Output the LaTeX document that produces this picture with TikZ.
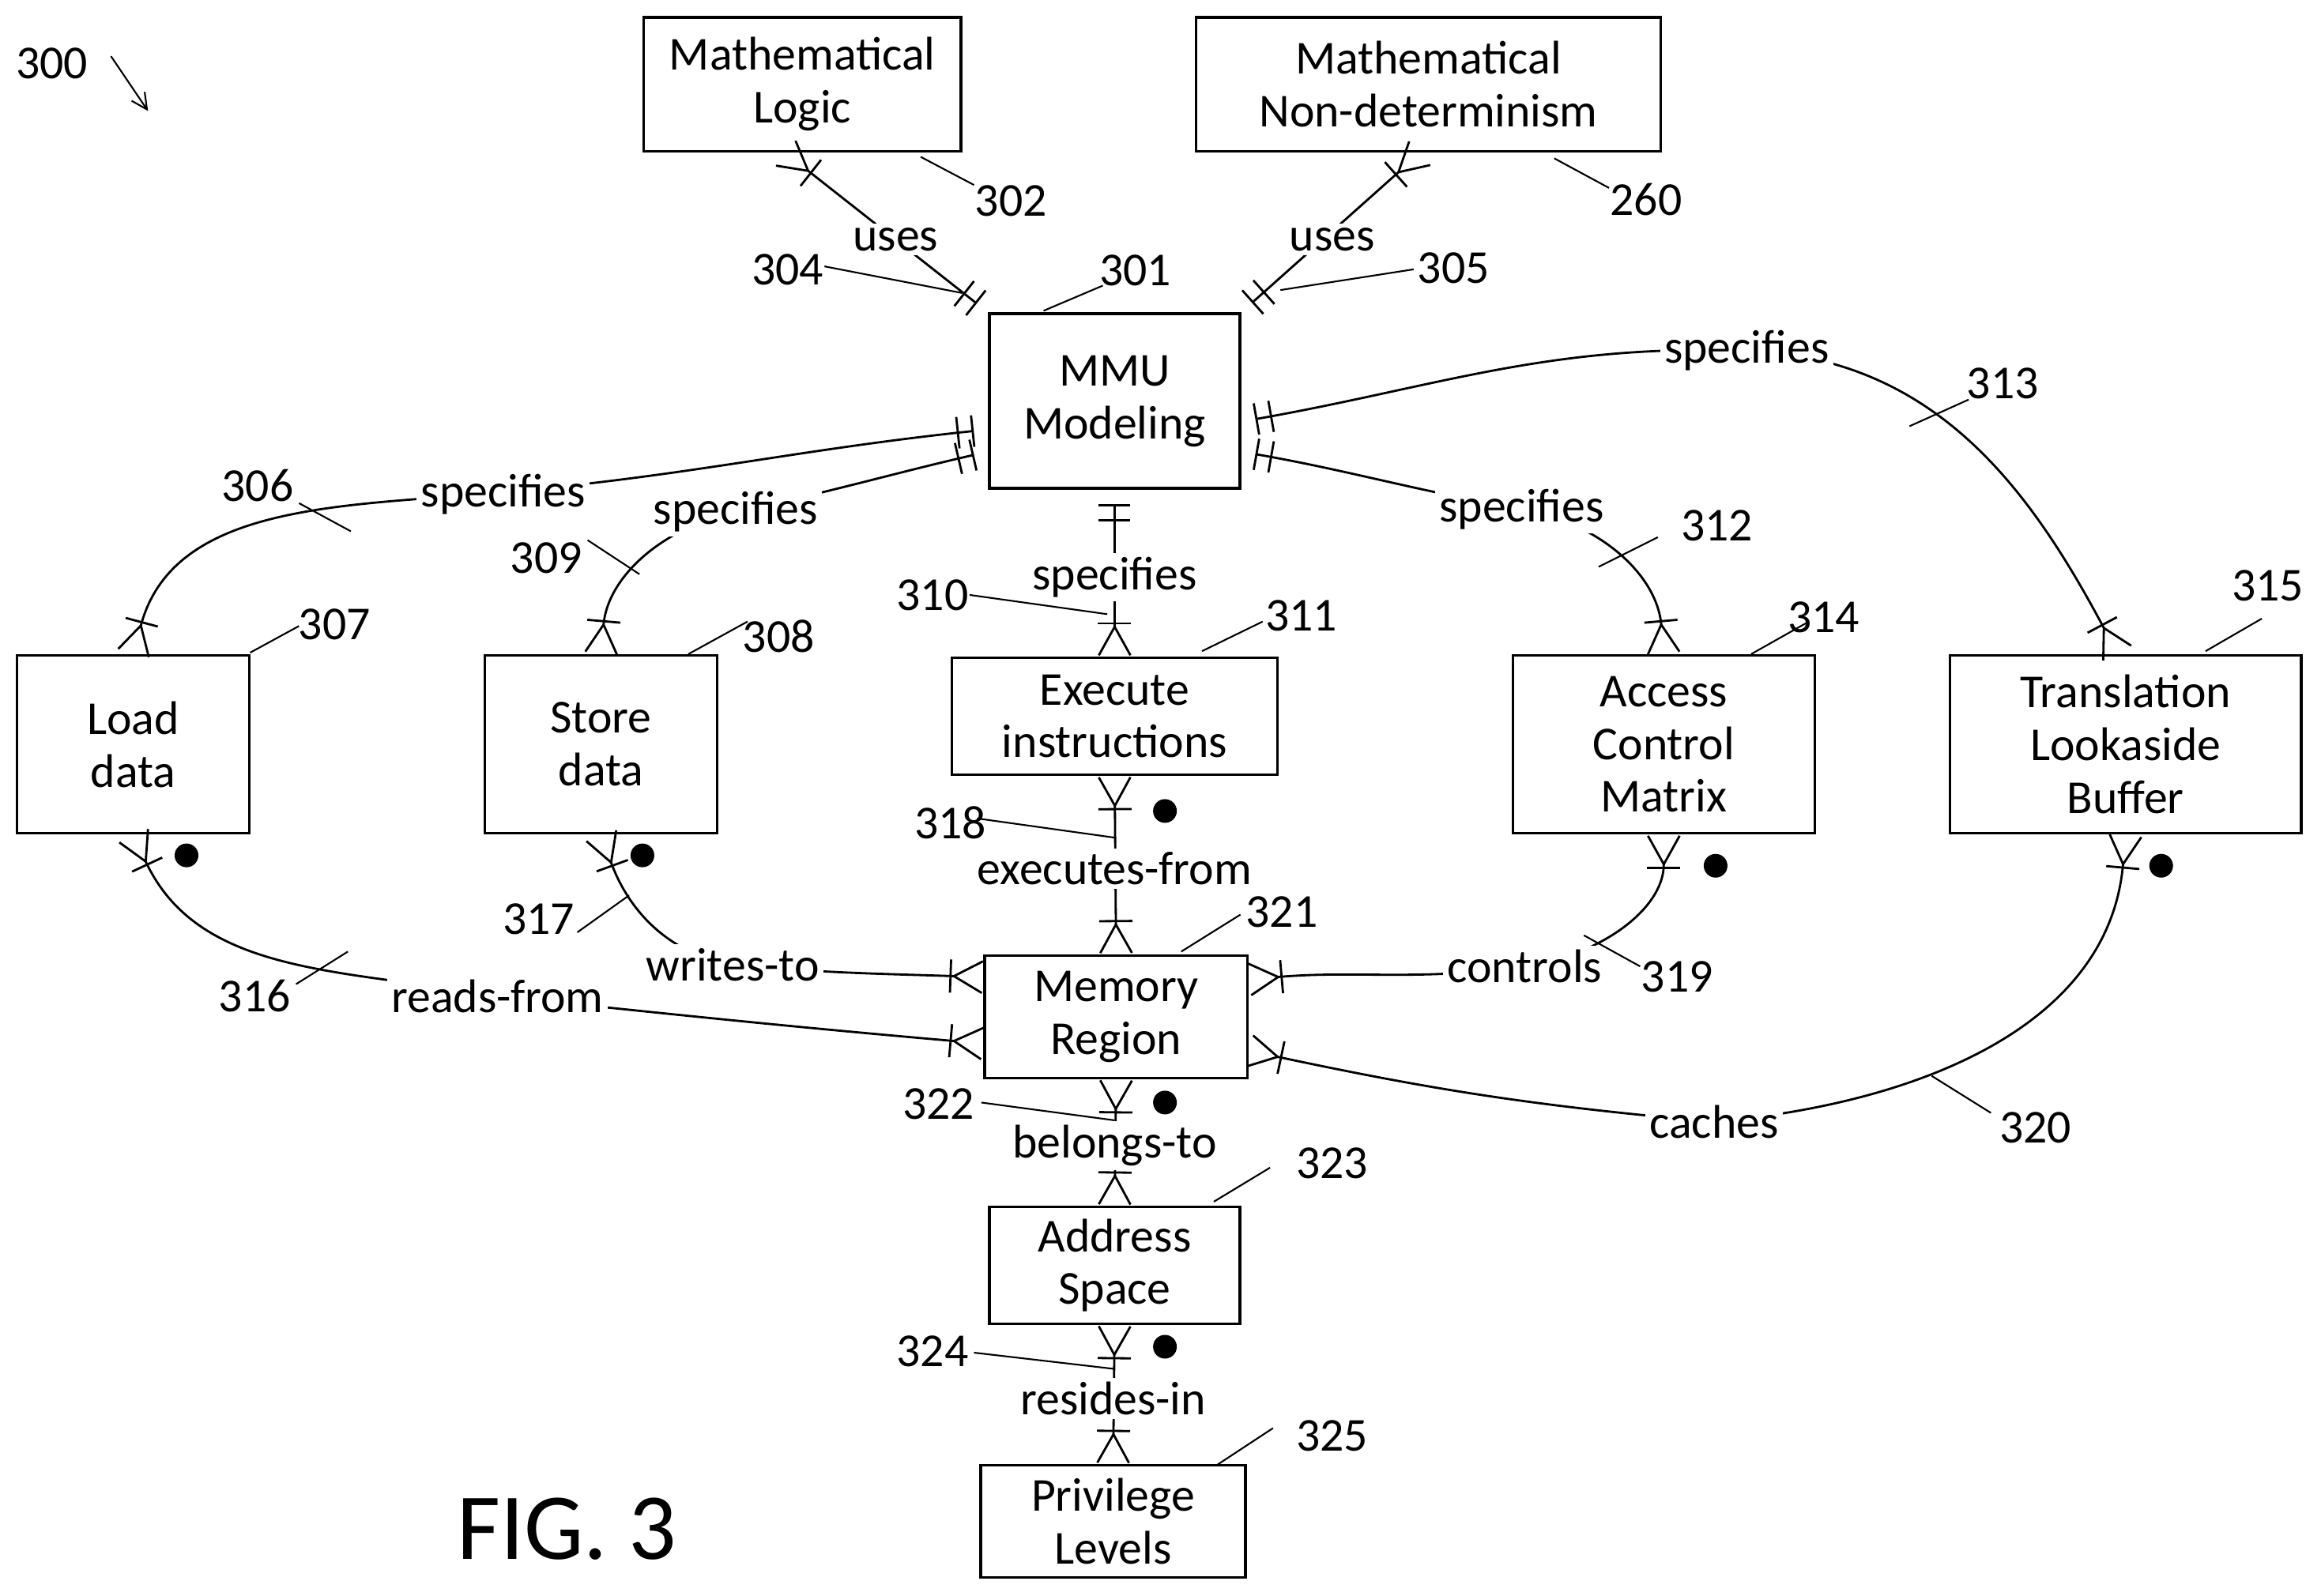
\documentclass[tikz,border=0pt]{standalone}
\usepackage{fontspec}
\setmainfont{Carlito}
\usetikzlibrary{arrows.meta}
\tikzset{
  box/.style={draw, line width=1pt, align=center, font=\fontsize{17}{19}\selectfont, inner sep=0pt},
  lbl/.style={fill=white, inner sep=1.5pt, font=\fontsize{17}{20}\selectfont},
  num/.style={font=\fontsize{17}{20}\selectfont, inner sep=0pt},
  lead/.style={line width=.6pt},
  rel/.style={line width=.8pt},
  one/.tip={Bar[width=.4cm,sep=.16cm]Bar[width=.4cm,sep=.18cm]},
  many/.tip={Bar[width=.42cm,sep=0pt]Straight Barb[reversed,length=.36cm,width=.4cm,line width=.8pt]},
  dot/.style={circle, fill, inner sep=0pt, minimum size=.3cm}
}
\begin{document}
\begin{tikzpicture}[x=0.01873cm, y=-0.01873cm]
\useasboundingbox (0,0) rectangle (1568,1078);
% entities
\node[box, minimum width=4.01cm, minimum height=1.69cm] (logic) at (542,57) {Mathematical\\Logic};
\node[box, minimum width=5.88cm, minimum height=1.69cm] (nondet) at (965,57) {Mathematical\\Non-determinism};
\node[box, minimum width=3.17cm, minimum height=2.21cm] (mmu) at (753,271) {MMU\\Modeling};
\node[box, minimum width=2.94cm, minimum height=2.25cm] (load) at (90,503) {Load\\data};
\node[box, minimum width=2.94cm, minimum height=2.25cm] (store) at (406,503) {Store\\data};
\node[box, minimum width=4.12cm, minimum height=1.48cm] (exec) at (753,484) {Execute\\instructions};
\node[box, minimum width=3.82cm, minimum height=2.25cm] (acm) at (1124,503) {Access\\Control\\Matrix};
\node[box, minimum width=4.44cm, minimum height=2.25cm] (tlb) at (1436,503) {Translation\\Lookaside\\Buffer};
\node[box, minimum width=3.32cm, minimum height=1.55cm] (mem) at (754,687) {Memory\\Region};
\node[box, minimum width=3.17cm, minimum height=1.48cm] (addr) at (753,855) {Address\\Space};
\node[box, minimum width=3.35cm, minimum height=1.42cm] (priv) at (752,1028) {Privilege\\Levels};

% relationships from MMU
\draw[rel, one-many] (mmu.north west) -- ([xshift=-.22cm]logic.south);
\draw[rel, one-many] (mmu.north east) -- ([xshift=-.1cm]nondet.south);
\draw[rel, one-many] ([yshift=-.36cm]mmu.west) to[out=186,in=5] (336,333) to[out=185,in=75] (load.north);
\draw[rel, one-many] ([yshift=-.64cm]mmu.west) to[out=193,in=12] (497,346) to[out=192,in=85] (store.north);
\draw[rel, one-many] (mmu.south) -- (exec.north);
\draw[rel, one-many] ([yshift=-.26cm]mmu.east) to[out=10,in=178] (1180,237) to[out=-2,in=118] ([xshift=-.1cm]tlb.north);
\draw[rel, one-many] ([yshift=-.64cm]mmu.east) to[out=-10,in=170] (1028,344) to[out=-10,in=95] (acm.north);
% relationships to memory region
\draw[rel, many-many] (exec.south) -- (mem.north);
\draw[rel, many-many] (load.south) to[out=-65,in=170] (336,673) to[out=-6,in=175] ([yshift=-.34cm]mem.west);
\draw[rel, many-many] (store.south) to[out=-70,in=170] (495,652) to[out=-5,in=178] ([yshift=.5cm]mem.west);
\draw[rel, many-many] (acm.south) to[out=-90,in=8] (1030,653) to[out=188,in=5] ([yshift=.47cm]mem.east);
\draw[rel, many-many] (tlb.south) to[out=-95,in=5] (1158,758) to[out=175,in=-12] ([yshift=-.43cm]mem.east);
\draw[rel, many-many] (mem.south) -- (addr.north);
\draw[rel, many-many] (addr.south) -- (priv.north);

% relationship labels
\node[lbl] (l1) at (605,162) {uses};
\node[lbl] (l2) at (900,162) {uses};
\node[lbl] (l3) at (340,334) {specifies};
\node[lbl] (l4) at (497,346) {specifies};
\node[lbl] (l5) at (753,390) {specifies};
\node[lbl] (l6) at (1180,237) {specifies};
\node[lbl] (l7) at (1028,344) {specifies};
\node[lbl] (l8) at (753,587) {executes-from};
\node[lbl] (l9) at (336,673) {reads-from};
\node[lbl] (l10) at (495,652) {writes-to};
\node[lbl] (l11) at (1030,653) {controls};
\node[lbl] (l12) at (1158,758) {caches};
\node[lbl] (l13) at (753,774) {belongs-to};
\node[lbl] (l14) at (752,945) {resides-in};

% dots
\foreach \p in {(787,548),(126,578),(434,578),(1159,585),(1460,585),(787,745),(787,910)}
  \node[dot] at \p {};

% reference numerals
\node[num] (n300) at (35,43) {300};
\draw[-{Straight Barb[length=.2cm,width=.2cm]}, lead] (75,38) -- (100,75);
\foreach \t/\x/\y/\ax/\ay/\bx/\by in {
  302/683/136/658/125/622/106, 304/532/182/557/180/650/198,
  301/767/183/745/193/705/210, 260/1112/135/1087/127/1050/107,
  305/982/181/955/182/865/196, 313/1353/259/1330/270/1290/288,
  306/174/328/202/340/237/359, 309/369/377/397/365/432/388,
  307/226/422/202/423/169/441, 308/526/430/505/420/465/442,
  310/630/402/655/402/748/415, 311/879/416/853/420/812/440,
  312/1160/355/1120/363/1080/383, 314/1232/417/1222/420/1183/442,
  315/1532/396/1528/418/1490/440, 318/642/556/660/553/753/566,
  317/364/621/390/630/425/605, 316/172/673/200/665/235/643,
  321/866/616/838/618/798/643, 319/1133/660/1108/653/1070/632,
  322/634/746/663/745/753/757, 320/1375/762/1345/752/1305/727,
  323/900/786/858/789/820/812, 324/630/913/658/914/753/925,
  325/900/970/860/965/822/990}
{
  \node[num] (n\t) at (\x,\y) {\t};
  \draw[lead] (\ax,\ay) -- (\bx,\by);
}
\node[font=\fontsize{34}{40}\selectfont] (fig) at (383,1033) {FIG. 3};
\end{tikzpicture}
\end{document}
